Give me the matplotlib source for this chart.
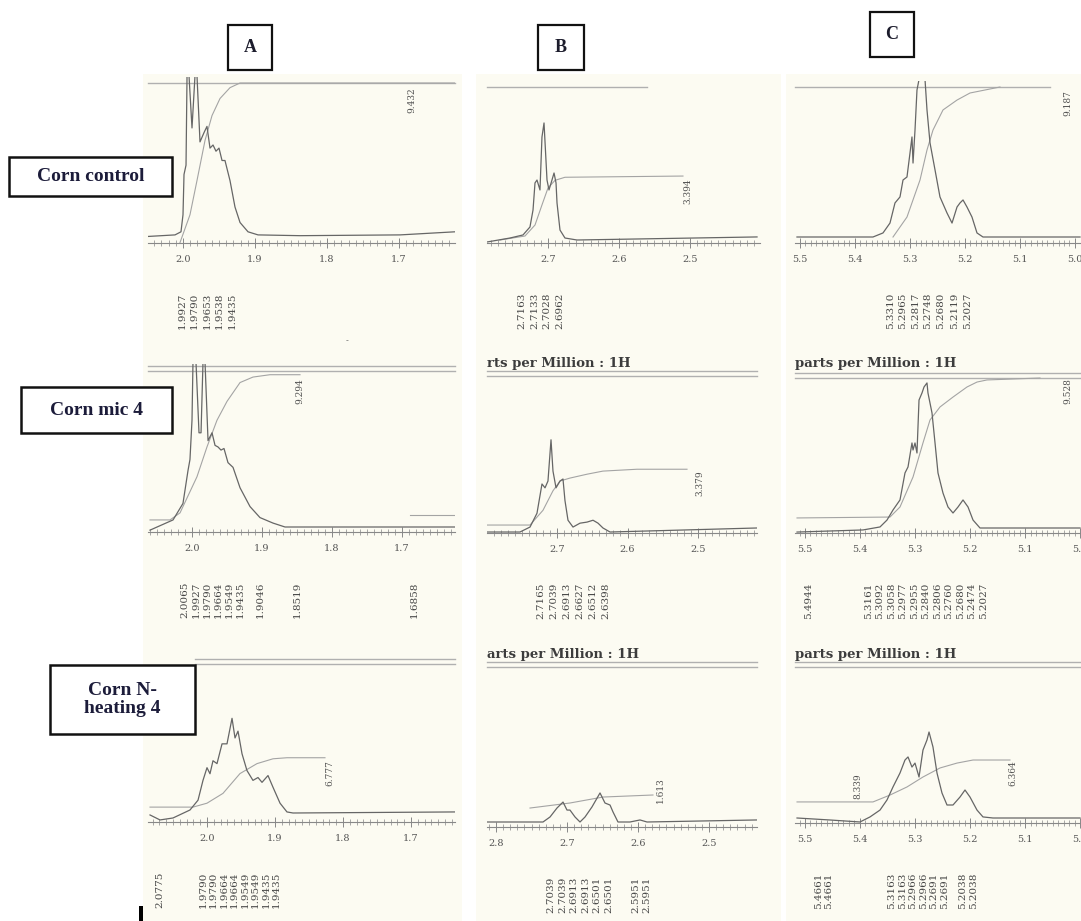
import matplotlib
matplotlib.use("Agg")
import matplotlib.pyplot as plt
from matplotlib.patches import Rectangle
from matplotlib.ticker import MultipleLocator, FormatStrFormatter

W, H = 1081, 921

# ---- values: (ppm, height relative to panel) ----
# column A, Corn control
a1_ppm = [2.0486, 2.0111, 2.0028, 2.0, 1.9986, 1.9958, 1.9944, 1.9917, 1.9875, 1.9833,
          1.9806, 1.9764, 1.9708, 1.9667, 1.9625, 1.9583, 1.9542, 1.95, 1.9458, 1.9417,
          1.9347, 1.9278, 1.9208, 1.9097, 1.8958, 1.8375, 1.6986, 1.6222]
a1_h = [0.01, 0.02, 0.04, 0.15, 0.41, 0.47, 1.05, 1.05, 0.71, 1.05,
        1.05, 0.62, 0.68, 0.72, 0.58, 0.6, 0.56, 0.58, 0.5, 0.5,
        0.37, 0.2, 0.1, 0.04, 0.02, 0.015, 0.02, 0.04]
a1_itg_ppm = [2.0042, 1.9903, 1.9806, 1.9694, 1.9597, 1.9486, 1.9347, 1.9208, 1.6222]
a1_itg = [-0.03, 0.15, 0.37, 0.63, 0.79, 0.9, 0.97, 1.0, 1.0]
a1_peaks = ["1.9927", "1.9790", "1.9653", "1.9538", "1.9435"]
a1_area = ["9.432"]

# column A, Corn mic 4
a2_ppm = [2.06, 2.0271, 2.0129, 2.0057, 2.0029, 2.0, 1.9986, 1.9943, 1.99, 1.9871,
          1.9843, 1.9814, 1.9771, 1.9714, 1.9671, 1.9629, 1.9586, 1.9543, 1.9486, 1.9414,
          1.9314, 1.9171, 1.9029, 1.8843, 1.8671, 1.6243]
a2_h = [-0.02, 0.045, 0.15, 0.36, 0.43, 0.68, 1.05, 1.05, 0.6, 0.6,
        1.05, 1.05, 0.55, 0.6, 0.52, 0.51, 0.49, 0.5, 0.41, 0.38,
        0.25, 0.13, 0.06, 0.025, 0.0, 0.0]
a2_itg_ppm = [2.06, 2.0314, 2.0171, 1.9929, 1.9786, 1.9643, 1.95, 1.9314, 1.9129, 1.8886, 1.8457]
a2_itg = [0.045, 0.045, 0.09, 0.32, 0.51, 0.68, 0.8, 0.92, 0.955, 0.97, 0.97]
a2_itg2_ppm = [1.6886, 1.6243]
a2_itg2 = [0.076, 0.076]
a2_peaks = ["2.0065", "1.9927", "1.9790", "1.9664", "1.9549", "1.9435", "1.9046", "1.8519", "1.6858"]
a2_area = ["9.294"]

# column A, Corn N-heating 4
a3_ppm = [2.0838, 2.0691, 2.05, 2.025, 2.0132, 2.0059, 2.0, 1.9956, 1.9912, 1.9853,
          1.9779, 1.9706, 1.9632, 1.9588, 1.9544, 1.9485, 1.9412, 1.9324, 1.925, 1.9191,
          1.9103, 1.9029, 1.8926, 1.8824, 1.8735, 1.6353]
a3_h = [-0.013, -0.046, -0.033, 0.02, 0.085, 0.216, 0.3, 0.26, 0.346, 0.327,
        0.458, 0.458, 0.627, 0.497, 0.542, 0.392, 0.281, 0.216, 0.235, 0.203,
        0.248, 0.17, 0.065, 0.007, 0.0, 0.007]
a3_itg_ppm = [2.0838, 2.0206, 2.0, 1.9765, 1.9515, 1.9265, 1.9029, 1.8824, 1.8265]
a3_itg = [0.039, 0.039, 0.065, 0.13, 0.261, 0.327, 0.359, 0.366, 0.366]
a3_peaks = ["2.0775", "1.9790", "1.9790", "1.9664", "1.9664", "1.9549", "1.9549", "1.9435", "1.9435"]
a3_area = ["6.777"]

# column B
b1_ppm = [2.7859, 2.7535, 2.7352, 2.7254, 2.7211, 2.7183, 2.7155, 2.7113, 2.7085, 2.7056,
          2.7014, 2.6986, 2.6944, 2.6915, 2.6887, 2.6873, 2.6831, 2.6761, 2.6592, 2.4056]
b1_h = [-0.013, 0.013, 0.033, 0.085, 0.196, 0.373, 0.392, 0.327, 0.673, 0.765,
        0.392, 0.327, 0.392, 0.438, 0.373, 0.242, 0.065, 0.013, 0.0, 0.02]
b1_itg_ppm = [2.7676, 2.7324, 2.7183, 2.7085, 2.7, 2.6901, 2.6761, 2.5099]
b1_itg = [0.0, 0.026, 0.098, 0.229, 0.34, 0.39, 0.41, 0.418]
b1_peaks = ["2.7163", "2.7133", "2.7028", "2.6962"]
b1_area = ["3.394"]

b2_ppm = [2.7993, 2.7525, 2.7383, 2.7284, 2.7213, 2.717, 2.7128, 2.7085, 2.7057, 2.7014,
          2.6957, 2.6915, 2.6887, 2.6844, 2.6773, 2.6674, 2.6574, 2.6489, 2.6418, 2.6348,
          2.6248, 2.4163]
b2_h = [-0.013, -0.013, 0.019, 0.108, 0.297, 0.272, 0.316, 0.582, 0.38, 0.272,
        0.316, 0.329, 0.19, 0.063, 0.019, 0.044, 0.051, 0.063, 0.044, 0.013,
        -0.013, 0.013]
b2_itg_ppm = [2.7993, 2.7383, 2.7199, 2.7057, 2.6957, 2.6816, 2.6574, 2.6348, 2.5865, 2.5156]
b2_itg = [0.032, 0.032, 0.127, 0.253, 0.316, 0.335, 0.36, 0.38, 0.392, 0.392]
b2_peaks = ["2.7165", "2.7039", "2.6913", "2.6627", "2.6512", "2.6398"]
b2_area = ["3.379"]

b3_ppm = [2.8127, 2.7338, 2.7239, 2.7141, 2.7056, 2.7, 2.6958, 2.6887, 2.6817, 2.6746,
          2.6648, 2.6535, 2.6465, 2.6394, 2.6352, 2.6282, 2.6113, 2.5972, 2.5873, 2.4324]
b3_h = [0.0, 0.0, 0.032, 0.089, 0.127, 0.076, 0.076, 0.032, 0.0, 0.032,
        0.096, 0.185, 0.121, 0.108, 0.064, 0.0, 0.0, 0.013, 0.0, 0.013]
b3_itg_ppm = [2.7521, 2.6958, 2.6493, 2.5789]
b3_itg = [0.089, 0.121, 0.159, 0.172]
b3_peaks = ["2.7039", "2.7039", "2.6913", "2.6913", "2.6501", "2.6501", "2.5951", "2.5951"]
b3_area = ["1.613"]

# column C
c1_ppm = [5.5055, 5.3673, 5.3491, 5.3364, 5.3273, 5.3182, 5.3127, 5.3055, 5.3, 5.2964,
          5.2945, 5.2909, 5.2873, 5.2836, 5.2727, 5.2691, 5.2636, 5.2545, 5.2455, 5.2327,
          5.2236, 5.2145, 5.2091, 5.2036, 5.1964, 5.1873, 5.1782, 5.1673, 4.9909]
c1_h = [0.0, 0.0, 0.027, 0.093, 0.227, 0.267, 0.38, 0.4, 0.56, 0.667,
        0.493, 0.713, 0.98, 1.05, 1.05, 0.847, 0.627, 0.447, 0.267, 0.16,
        0.093, 0.2, 0.227, 0.247, 0.2, 0.133, 0.027, 0.0, 0.0]
c1_itg_ppm = [5.3309, 5.3055, 5.2818, 5.2691, 5.2582, 5.24, 5.2145, 5.1909, 5.1364]
c1_itg = [0.0, 0.133, 0.38, 0.58, 0.713, 0.847, 0.913, 0.96, 1.0]
c1_peaks = ["5.3310", "5.2965", "5.2817", "5.2748", "5.2680", "5.2119", "5.2027"]
c1_area = ["9.187"]

c2_ppm = [5.5145, 5.3945, 5.3636, 5.3509, 5.34, 5.3273, 5.3182, 5.3127, 5.3055, 5.3036,
          5.3, 5.2964, 5.2927, 5.2873, 5.2836, 5.2782, 5.2764, 5.2691, 5.2636, 5.2582,
          5.2491, 5.24, 5.2309, 5.2218, 5.2127, 5.2036, 5.1945, 5.1818, 5.0]
c2_h = [-0.027, -0.013, 0.007, 0.053, 0.12, 0.187, 0.367, 0.407, 0.567, 0.52,
        0.567, 0.5, 0.853, 0.9, 0.94, 0.967, 0.9, 0.767, 0.567, 0.367,
        0.233, 0.14, 0.1, 0.14, 0.187, 0.14, 0.053, 0.0, 0.0]
c2_itg_ppm = [5.5145, 5.3455, 5.3273, 5.3036, 5.2855, 5.2727, 5.2545, 5.2309, 5.2055, 5.1873, 5.1691, 5.0727]
c2_itg = [0.067, 0.073, 0.14, 0.34, 0.567, 0.72, 0.807, 0.873, 0.94, 0.973, 0.987, 1.0]
c2_peaks = ["5.4944", "5.3161", "5.3092", "5.3058", "5.2977", "5.2955", "5.2840",
            "5.2806", "5.2760", "5.2680", "5.2474", "5.2027"]
c2_area = ["9.528"]

c3_ppm = [5.5145, 5.4545, 5.4, 5.3818, 5.3636, 5.3509, 5.34, 5.3273, 5.3182, 5.3127,
          5.3055, 5.3, 5.2927, 5.2855, 5.2782, 5.2745, 5.2673, 5.26, 5.2509, 5.2418,
          5.2309, 5.2182, 5.2091, 5.2, 5.1873, 5.1764, 5.1582, 5.0]
c3_h = [0.0, -0.013, -0.026, 0.007, 0.052, 0.118, 0.203, 0.294, 0.379, 0.399,
        0.333, 0.359, 0.268, 0.444, 0.51, 0.562, 0.464, 0.294, 0.163, 0.085,
        0.085, 0.137, 0.183, 0.137, 0.052, 0.007, 0.0, 0.0]
c3_itg_ppm = [5.5145, 5.3764, 5.3455, 5.3145, 5.2855, 5.2545, 5.2236, 5.1945, 5.1273]
c3_itg = [0.105, 0.105, 0.15, 0.203, 0.268, 0.327, 0.359, 0.379, 0.379]
c3_peaks = ["5.4661", "5.4661", "5.3163", "5.3163", "5.2966", "5.2966", "5.2691", "5.2691",
            "5.2038", "5.2038"]
c3_area = ["8.339", "6.364"]

column_labels = ["A", "B", "C"]
row_labels = ["Corn control", "Corn mic 4", "Corn N-\nheating 4"]
ppm_caption = "parts per Million : 1H"

plt.rcParams["font.family"] = ["DejaVu Serif"]

fig = plt.figure(figsize=(W / 100, H / 100), dpi=100)
fig.patch.set_facecolor("white")


def px_axes(x0, y0, x1, y1, **kw):
    return fig.add_axes([x0 / W, 1 - y1 / H, (x1 - x0) / W, (y1 - y0) / H], **kw)


def spread(xs, gap):
    # push crowded peak labels apart, centred on their own ppm positions
    groups = [[x] for x in xs]

    def bounds(g):
        s = sum(g) / len(g) - gap * (len(g) - 1) / 2
        return s, s + gap * (len(g) - 1)

    merged = True
    while merged:
        merged = False
        for i in range(len(groups) - 1):
            if bounds(groups[i])[1] + gap > bounds(groups[i + 1])[0]:
                groups[i] = groups[i] + groups.pop(i + 1)
                merged = True
                break
    out = []
    for g in groups:
        s = bounds(g)[0]
        out += [s + gap * k for k in range(len(g))]
    return out


# page layer (backgrounds, lines, captions)
back = px_axes(0, 0, W, H)
back.set_xlim(0, W)
back.set_ylim(H, 0)
back.axis("off")
for x0, x1 in [(143, 462), (476, 781), (786, 1081)]:
    back.add_patch(Rectangle((x0, 74), x1 - x0, H - 74, fc="#fcfbf2", ec="none"))

# panel geometry in pixels of the page
panels = [
    dict(ppm=a1_ppm, h=a1_h, itg=[(a1_itg_ppm, a1_itg)], peaks=a1_peaks, area=a1_area,
         area_xy=[(412, 87)], x0=148, x1=455, top=83, base=238, axis=243, ref=(2.0, 183), ppx=720,
         lines=[(148, 455, 83)], gap=12.5, shift=0),
    dict(ppm=a2_ppm, h=a2_h, itg=[(a2_itg_ppm, a2_itg), (a2_itg2_ppm, a2_itg2)], peaks=a2_peaks,
         area=a2_area, area_xy=[(300, 378)], x0=148, x1=455, top=370, base=527, axis=532,
         ref=(2.0, 192), ppx=700, lines=[(148, 455, 366), (148, 455, 371)], gap=11, shift=2),
    dict(ppm=a3_ppm, h=a3_h, itg=[(a3_itg_ppm, a3_itg)], peaks=a3_peaks, area=a3_area,
         area_xy=[(330, 760)], x0=148, x1=455, top=662, base=813, axis=822, ref=(2.0, 207), ppx=680,
         lines=[(195, 455, 659), (195, 455, 664)], gap=10.5, shift=6),
    dict(ppm=b1_ppm, h=b1_h, itg=[(b1_itg_ppm, b1_itg)], peaks=b1_peaks, area=b1_area,
         area_xy=[(688, 178)], x0=487, x1=760, top=87, base=240, axis=243, ref=(2.7, 548), ppx=710,
         lines=[(487, 647, 87)], gap=12.5, shift=-2),
    dict(ppm=b2_ppm, h=b2_h, itg=[(b2_itg_ppm, b2_itg)], peaks=b2_peaks, area=b2_area,
         area_xy=[(700, 470)], x0=487, x1=757, top=375, base=530, axis=533, ref=(2.7, 557), ppx=705,
         lines=[(487, 757, 371), (487, 757, 376)], gap=13, shift=0),
    dict(ppm=b3_ppm, h=b3_h, itg=[(b3_itg_ppm, b3_itg)], peaks=b3_peaks, area=b3_area,
         area_xy=[(660, 777)], x0=487, x1=757, top=665, base=822, axis=827, ref=(2.7, 567), ppx=710,
         lines=[(487, 757, 662), (487, 757, 667)], gap=11.5, shift=0),
    dict(ppm=c1_ppm, h=c1_h, itg=[(c1_itg_ppm, c1_itg)], peaks=c1_peaks, area=c1_area,
         area_xy=[(1068, 90)], x0=795, x1=1081, top=87, base=237, axis=243, ref=(5.3, 910), ppx=550,
         lines=[(795, 1050, 87)], gap=12.5, shift=0),
    dict(ppm=c2_ppm, h=c2_h, itg=[(c2_itg_ppm, c2_itg)], peaks=c2_peaks, area=c2_area,
         area_xy=[(1068, 378)], x0=795, x1=1081, top=378, base=528, axis=533, ref=(5.3, 915), ppx=550,
         lines=[(795, 1081, 373), (795, 1081, 378)], gap=11.5, shift=0),
    dict(ppm=c3_ppm, h=c3_h, itg=[(c3_itg_ppm, c3_itg)], peaks=c3_peaks, area=c3_area,
         area_xy=[(858, 773), (1013, 760)], x0=795, x1=1081, top=665, base=818, axis=823,
         ref=(5.3, 915), ppx=550, lines=[(795, 1081, 662), (795, 1081, 667)], gap=10.5, shift=0),
]

for p in panels:
    ref_ppm, ref_x = p["ref"]
    left = ref_ppm + (ref_x - p["x0"]) / p["ppx"]
    right = ref_ppm - (p["x1"] - ref_x) / p["ppx"]
    span = p["base"] - p["top"]
    ax = px_axes(p["x0"], p["top"] - 6, p["x1"], p["axis"])
    ax.set_xlim(left, right)
    ax.set_ylim(-(p["axis"] - p["base"]) / span, (span + 6) / span)
    ax.patch.set_alpha(0)
    for s in ["top", "left", "right"]:
        ax.spines[s].set_visible(False)
    ax.spines["bottom"].set_color("#888888")
    ax.spines["bottom"].set_linewidth(0.8)
    ax.yaxis.set_visible(False)
    ax.xaxis.set_major_locator(MultipleLocator(0.1))
    ax.xaxis.set_minor_locator(MultipleLocator(0.01))
    ax.xaxis.set_major_formatter(FormatStrFormatter("%.1f"))
    ax.tick_params(axis="x", which="major", direction="inout", length=7, width=0.7,
                   color="#888888", labelsize=7, labelcolor="#555555", pad=5)
    ax.tick_params(axis="x", which="minor", direction="inout", length=4, width=0.6, color="#999999")

    for xs, ys in p["itg"]:
        ax.plot(xs, ys, color="#a4a4a4", lw=0.8)
    ax.plot(p["ppm"], p["h"], color="#666666", lw=0.9)

    for x0, x1, y in p["lines"]:
        back.plot([x0, x1], [y, y], color="#b0b0b0", lw=1.0)

    for txt, (x, y) in zip(p["area"], p["area_xy"]):
        back.text(x, y, txt, rotation=90, ha="center", va="top", fontsize=6.5, color="#505050")

    nat = [ref_x + (ref_ppm - float(v)) * p["ppx"] + p["shift"] for v in p["peaks"]]
    for txt, x in zip(p["peaks"], spread(nat, p["gap"])):
        back.text(x, p["axis"] + 50, txt, rotation=90, ha="center", va="top",
                  fontsize=7.5, color="#444444")

# "parts per Million : 1H" captions cut by the scan edges
for txt, x, y in [(ppm_caption[2:], 487, 363), (ppm_caption[1:], 487, 654),
                  (ppm_caption, 795, 363), (ppm_caption, 795, 654)]:
    back.text(x, y, txt, ha="left", va="center", fontsize=9.5, fontweight="bold",
              color="#3c3c3c")
back.text(347, 341, "-", fontsize=6, color="#555555", ha="center", va="center")

# front layer: boxed labels
front = px_axes(0, 0, W, H)
front.set_xlim(0, W)
front.set_ylim(H, 0)
front.axis("off")

for txt, (x0, y0, x1, y1) in zip(column_labels, [(228, 25, 272, 70), (538, 25, 584, 70), (870, 12, 914, 57)]):
    front.add_patch(Rectangle((x0, y0), x1 - x0, y1 - y0, fc="white", ec="#111111", lw=1.6))
    front.text((x0 + x1) / 2, (y0 + y1) / 2, txt, ha="center", va="center", fontsize=13,
               fontweight="bold", color="#1c1c2c", family=["Liberation Serif"])

for txt, (x0, y0, x1, y1) in zip(row_labels, [(9, 157, 172, 196), (21, 387, 172, 433), (50, 665, 195, 734)]):
    front.add_patch(Rectangle((x0, y0), x1 - x0, y1 - y0, fc="white", ec="#111111", lw=1.8))
    front.text((x0 + x1) / 2, (y0 + y1) / 2, txt, ha="center", va="center", fontsize=14,
               fontweight="bold", color="#1c1c3a", family=["Liberation Serif"], linespacing=1.15)

front.add_patch(Rectangle((139, 906), 4, 15, fc="black", ec="none"))

fig.savefig("out.png", dpi=100, facecolor="white")
